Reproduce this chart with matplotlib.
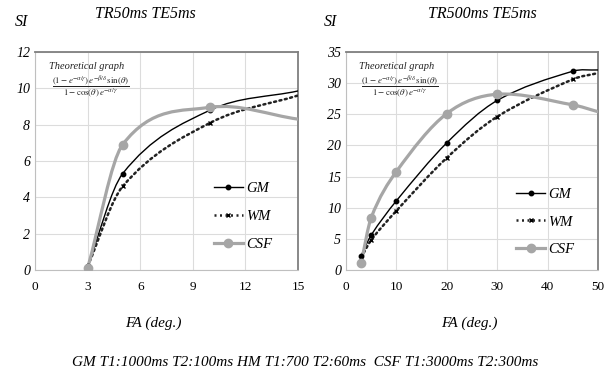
import numpy as np
import matplotlib.pyplot as plt
from matplotlib.path import Path
from matplotlib.patches import PathPatch
from matplotlib.lines import Line2D

plt.rcParams['font.family'] = ['Liberation Serif', 'DejaVu Serif']
plt.rcParams['mathtext.fontset'] = 'stix'

# TR50ms TE5ms
fa_50 = [3, 5, 10, 15]
gm_50 = [0.2, 5.3, 8.8, 9.85]
wm_50 = [0.2, 4.6, 8.1, 9.6]
csf_50 = [0.1, 6.9, 8.95, 8.3]

# TR500ms TE5ms
fa_500 = [3, 5, 10, 20, 30, 45, 50]
gm_500 = [2.3, 5.6, 11.1, 20.4, 27.2, 31.9, 32.1]
wm_500 = [2.0, 4.8, 9.5, 18.0, 24.6, 30.6, 31.6]
csf_500 = [1.1, 8.4, 15.8, 25.1, 28.2, 26.5, 25.4]

series_names = ['GM', 'WM', 'CSF']
caption = 'GM T1:1000ms T2:100ms HM T1:700 T2:60ms  CSF T1:3000ms T2:300ms'
formula = (r'$\dfrac{(1-e^{-\alpha/\gamma})\,e^{-\beta/\delta}\,\sin(\theta)}'
           r'{1-\cos(\theta)\,e^{-\alpha/\gamma}}$')

styles = {
    'GM': dict(color='black', lw=1.0, ls='-', marker='o', ms=3.2, mfc='black', mec='black'),
    'WM': dict(color='#222222', lw=1.8, ls=(0, (0.8, 1.4)), marker='x', ms=3.5, mfc='black', mec='black'),
    'CSF': dict(color='#a6a6a6', lw=2.3, ls='-', marker='o', ms=6, mfc='#a6a6a6', mec='#a6a6a6'),
}


# сглаженная линия как в Excel (кривые Безье по точкам)
def smooth_path(x, y):
    x = np.asarray(x, float)
    y = np.asarray(y, float)
    n = len(x)
    m = np.zeros(n)
    m[0] = (y[1] - y[0]) / (x[1] - x[0])
    m[-1] = (y[-1] - y[-2]) / (x[-1] - x[-2])
    for i in range(1, n - 1):
        m[i] = (y[i + 1] - y[i - 1]) / (x[i + 1] - x[i - 1])
    verts = [(x[0], y[0])]
    codes = [Path.MOVETO]
    for i in range(n - 1):
        h = (x[i + 1] - x[i]) / 3
        verts += [(x[i] + h, y[i] + m[i] * h),
                  (x[i + 1] - h, y[i + 1] - m[i + 1] * h),
                  (x[i + 1], y[i + 1])]
        codes += [Path.CURVE4] * 3
    return Path(verts, codes)


def draw_panel(ax, fa, data, title, title_x, si_x, xlab_x, xticks, yticks, leg_anchor):
    for name, vals in zip(series_names, data):
        st = styles[name]
        ax.add_patch(PathPatch(smooth_path(fa, vals), fill=False, edgecolor=st['color'],
                               lw=st['lw'], ls=st['ls'], capstyle='round', zorder=3))
        ax.plot(fa[:-1], vals[:-1], ls='none', marker=st['marker'], ms=st['ms'],
                mfc=st['mfc'], mec=st['mec'], mew=1.0, zorder=4)
    ax.set_xlim(xticks[0], xticks[-1])
    ax.set_ylim(yticks[0], yticks[-1])
    ax.set_xticks(xticks)
    ax.set_yticks(yticks)
    ax.tick_params(length=0, labelsize=10)
    ax.tick_params(axis='x', pad=8, labelsize=9.5)
    for lab in ax.get_yticklabels():
        lab.set_fontstyle('italic')
    ax.grid(True, color='#dcdcdc', lw=0.8)
    ax.set_axisbelow(True)
    for s in ['left', 'bottom']:
        ax.spines[s].set_color('#bfbfbf')
        ax.spines[s].set_linewidth(0.8)
    for s in ['top', 'right']:
        ax.spines[s].set_color('#7f7f7f')
        ax.spines[s].set_linewidth(1.3)
    ax.set_xlabel('FA (deg.)', fontstyle='italic', fontsize=11)
    ax.xaxis.set_label_coords(xlab_x, -0.215)
    ax.text(title_x, 1.174, title, transform=ax.transAxes, ha='center', va='center',
            fontstyle='italic', fontsize=11.5)
    ax.text(si_x, 1.138, 'SI', transform=ax.transAxes, ha='center', va='center',
            fontstyle='italic', fontsize=11.5)
    ax.text(0.052, 0.935, 'Theoretical graph', transform=ax.transAxes, ha='left',
            va='center', fontstyle='italic', fontsize=7.5, color='#222222')
    ax.text(0.212, 0.84, formula, transform=ax.transAxes, ha='center', va='center',
            fontsize=6.4, color='#222222')

    handles = []
    for name in series_names:
        st = styles[name]
        handles.append(Line2D([], [], color=st['color'], lw=st['lw'], ls=st['ls'],
                              marker=st['marker'], ms=st['ms'], mfc=st['mfc'],
                              mec=st['mec'], mew=1.0))
    leg = ax.legend(handles, series_names, loc='center', bbox_to_anchor=leg_anchor,
                    frameon=False, labelspacing=1.0, handlelength=2.0,
                    handletextpad=0.2, prop={'style': 'italic', 'size': 10.5})
    leg.set_zorder(5)


fig = plt.figure(figsize=(6.11, 3.76), dpi=100)
ax1 = fig.add_axes([0.0573, 0.282, 0.4304, 0.580])
ax2 = fig.add_axes([0.5663, 0.282, 0.4124, 0.580])

draw_panel(ax1, fa_50, [gm_50, wm_50, csf_50], 'TR50ms TE5ms', 0.42, -0.053, 0.45,
           [0, 3, 6, 9, 12, 15], [0, 2, 4, 6, 8, 10, 12], (0.79, 0.245))
draw_panel(ax2, fa_500, [gm_500, wm_500, csf_500], 'TR500ms TE5ms', 0.54, -0.06, 0.49,
           [0, 10, 20, 30, 40, 50], [0, 5, 10, 15, 20, 25, 30, 35], (0.79, 0.22))

fig.text(0.5, 0.035, caption, ha='center', va='center', fontstyle='italic', fontsize=11)

fig.savefig('out.png', dpi=100)
